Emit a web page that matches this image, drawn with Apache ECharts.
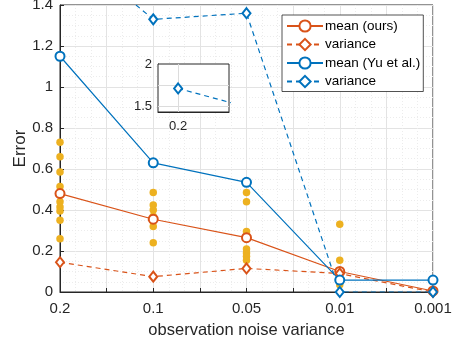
<!DOCTYPE html>
<html>
<head>
<meta charset="utf-8">
<script src="https://cdn.jsdelivr.net/npm/echarts@6/dist/echarts.min.js"></script>
<style>
  html, body { margin: 0; padding: 0; background: #fff; }
  #chart { width: 456px; height: 345px; }
</style>
</head>
<body>
<div id="chart"></div>
<script>
// x categories (observation noise variance), plotted at positions 1..5
const noiseLabels = ["0.2", "0.1", "0.05", "0.01", "0.001"];

// per-run errors (yellow dots)
const runs = [
  [0.73, 0.66, 0.585, 0.515, 0.48, 0.44, 0.415, 0.395, 0.35, 0.26],
  [0.485, 0.425, 0.40, 0.37, 0.355, 0.345, 0.32, 0.24],
  [0.485, 0.44, 0.295, 0.265, 0.21, 0.19, 0.175, 0.155],
  [0.33, 0.155, 0.10, 0.09, 0.06, 0.035],
  [0.006, 0.003, 0.001]
];

const meanOurs = [0.48, 0.355, 0.265, 0.10, 0.005];
const varOurs = [0.145, 0.075, 0.115, 0.09, 0.0];
const meanYu = [1.15, 0.63, 0.535, 0.058, 0.058];
const varYu = [1.71, 1.33, 1.36, 0.0, 0.0];

const ORANGE = "#D95319";
const BLUE = "#0072BD";
const YELLOW = "#EDB120";
const AX = "#262626";
const FONT = "Liberation Sans, Arial, sans-serif";

const pts = arr => arr.map((v, i) => [i + 1, v]);
const scatterData = [];
runs.forEach((r, i) => r.forEach(v => scatterData.push([i + 1, v])));

const chart = echarts.init(document.getElementById("chart"), null, { renderer: "canvas" });

const lineSeries = (name, data, color, dashed, symbol, size) => ({
  name: name,
  type: "line",
  data: data,
  xAxisIndex: 0,
  yAxisIndex: 0,
  symbol: symbol,
  symbolSize: size,
  clip: true,
  z: 3,
  itemStyle: { color: color, borderWidth: 1.1 },
  lineStyle: { color: color, width: 1.2, type: dashed ? [5, 4] : "solid" },
  emphasis: { disabled: true },
  animation: false
});

const option = {
  backgroundColor: "#fff",
  animation: false,
  textStyle: { fontFamily: FONT },
  grid: [
    { left: 60, top: 5, width: 373, height: 287, outerBoundsMode: "none", containLabel: false,
      show: true, borderColor: AX, borderWidth: 1, backgroundColor: "transparent" },
    { left: 158, top: 64, width: 71, height: 48, outerBoundsMode: "none", containLabel: false,
      show: true, borderColor: AX, borderWidth: 1, backgroundColor: "#fff", z: 5 }
  ],
  legend: {
    orient: "vertical",
    left: 282,
    top: 15,
    padding: [4, 3, 3, 4],
    itemGap: 4.5,
    itemWidth: 36,
    itemHeight: 14,
    backgroundColor: "#fff",
    borderColor: AX,
    borderWidth: 0.8,
    textStyle: { fontFamily: FONT, fontSize: 13.5, color: "#000", padding: [0, 0, 0, -3] },
    data: ["mean (ours)", "variance", "mean (Yu et al.)", "variance "],
    z: 10
  },
  xAxis: [
    {
      type: "value", gridIndex: 0, min: 1, max: 5, interval: 0.5,
      name: "observation noise variance", nameLocation: "middle", nameGap: 30,
      nameTextStyle: { fontFamily: FONT, fontSize: 16.5, color: AX },
      axisLine: { lineStyle: { color: AX, width: 1 } },
      axisTick: { inside: true, length: 4, lineStyle: { color: AX } },
      axisLabel: {
        fontFamily: FONT, fontSize: 15, color: AX, margin: 9,
        formatter: v => Number.isInteger(v) ? noiseLabels[v - 1] : ""
      },
      splitLine: { show: true, lineStyle: { color: "#e3e3e3", width: 1 } },
      minorTick: { show: false, splitNumber: 3 },
      minorSplitLine: { show: true, lineStyle: { color: "#ececec", type: [1, 2], width: 1 } }
    },
    {
      type: "value", gridIndex: 1, min: 0.83, max: 1.43,
      axisLine: { lineStyle: { color: AX, width: 1 } },
      axisTick: { show: false },
      axisLabel: {
        fontFamily: FONT, fontSize: 13, color: AX, margin: 8,
        customValues: [1], formatter: () => noiseLabels[0]
      },
      splitLine: { show: false }
    }
  ],
  yAxis: [
    {
      type: "value", gridIndex: 0, min: 0, max: 1.4, interval: 0.2,
      name: "Error", nameLocation: "middle", nameGap: 31, nameMoveOverlap: false,
      nameTextStyle: { fontFamily: FONT, fontSize: 17, color: AX },
      axisLine: { show: true, lineStyle: { color: AX, width: 1 } },
      axisTick: { inside: true, length: 4, lineStyle: { color: AX } },
      axisLabel: {
        fontFamily: FONT, fontSize: 15, color: AX, margin: 7,
        formatter: v => (Math.round(v * 10) / 10).toString()
      },
      splitLine: { show: true, lineStyle: { color: "#e3e3e3", width: 1 } },
      minorTick: { show: false, splitNumber: 4 },
      minorSplitLine: { show: true, lineStyle: { color: "#ececec", type: [1, 2], width: 1 } }
    },
    {
      type: "value", gridIndex: 1, min: 1.43, max: 2,
      axisLine: { show: true, lineStyle: { color: AX, width: 1 } },
      axisTick: { show: false },
      axisLabel: {
        fontFamily: FONT, fontSize: 13, color: AX, margin: 6,
        customValues: [1.5, 2], formatter: v => String(v)
      },
      splitLine: { show: false }
    }
  ],
  series: [
    {
      name: "runs",
      type: "scatter",
      data: scatterData,
      symbol: "circle",
      symbolSize: 7.5,
      itemStyle: { color: YELLOW, opacity: 1 },
      z: 2,
      emphasis: { disabled: true }
    },
    lineSeries("mean (ours)", pts(meanOurs), ORANGE, false, "emptyCircle", 9),
    lineSeries("variance", pts(varOurs), ORANGE, true, "emptyDiamond", [8, 10]),
    lineSeries("mean (Yu et al.)", pts(meanYu), BLUE, false, "emptyCircle", 9),
    lineSeries("variance ", pts(varYu), BLUE, true, "emptyDiamond", [8, 10]),
    // inset: zoom on the Yu et al. variance at 0.2
    {
      name: "inset",
      type: "line",
      xAxisIndex: 1,
      yAxisIndex: 1,
      data: pts(varYu).slice(0, 2),
      symbol: "emptyDiamond",
      symbolSize: [8, 10],
      clip: true,
      z: 6,
      itemStyle: { color: BLUE, borderWidth: 1.1 },
      lineStyle: { color: BLUE, width: 1.2, type: [5, 4] },
      markLine: {
        silent: true,
        symbol: "none",
        label: { show: false },
        lineStyle: { color: "#dcdcdc", type: "solid", width: 1 },
        data: [{ yAxis: 1.5 }, { yAxis: 1.75 }, { xAxis: 1 }]
      },
      emphasis: { disabled: true }
    }
  ]
};

chart.setOption(option);
</script>
</body>
</html>
